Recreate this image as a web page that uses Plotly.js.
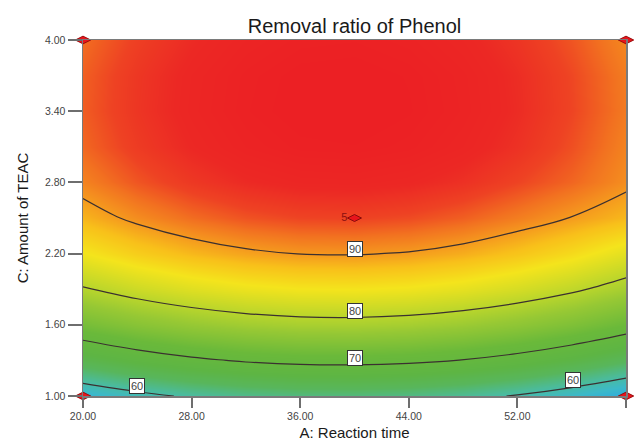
<!DOCTYPE html>
<html>
<head>
<meta charset="utf-8">
<script src="https://cdn.plot.ly/plotly-3.0.1.min.js"></script>
<style>html,body{margin:0;padding:0;background:#fff;}#chart{width:639px;height:443px;}</style>
</head>
<body>
<div id="chart"></div>
<script>
// A: Reaction time (x), C: Amount of TEAC (y)
var reactionTime = [20, 24, 28, 32, 36, 40, 44, 48, 52, 56, 60];
var amountTEAC = [1.0, 1.3, 1.6, 1.9, 2.2, 2.5, 2.8, 3.1, 3.4, 3.7, 4.0];
// Removal ratio of Phenol (%), rows follow amountTEAC, columns follow reactionTime
var removal = [
  [56.9, 58.95, 60.51, 61.59, 62.19, 62.3, 61.93, 61.07, 59.73, 57.91, 55.6],
  [65.7, 67.75, 69.31, 70.39, 70.99, 71.1, 70.73, 69.87, 68.53, 66.71, 64.4],
  [73.3, 75.35, 76.91, 77.99, 78.59, 78.7, 78.33, 77.47, 76.13, 74.31, 72.0],
  [79.65, 81.7, 83.26, 84.34, 84.94, 85.05, 84.68, 83.82, 82.48, 80.66, 78.35],
  [84.78, 86.83, 88.39, 89.47, 90.07, 90.18, 89.81, 88.95, 87.61, 85.79, 83.48],
  [88.6, 90.65, 92.21, 93.29, 93.89, 94.0, 93.63, 92.77, 91.43, 89.9, 88.4],
  [91.15, 93.2, 94.76, 95.84, 96.44, 96.55, 96.18, 95.32, 93.98, 92.5, 90.6],
  [92.45, 94.5, 96.06, 97.14, 97.74, 97.85, 97.48, 96.62, 95.28, 93.46, 91.15],
  [92.9, 94.95, 96.51, 97.59, 98.19, 98.3, 97.93, 97.07, 95.73, 93.91, 91.6],
  [92.8, 94.85, 96.41, 97.49, 98.09, 98.2, 97.83, 96.97, 95.63, 93.81, 91.5],
  [92.2, 94.25, 95.81, 96.89, 97.49, 97.6, 97.23, 96.37, 95.03, 93.21, 90.9]
];
var contourLevels = [60, 70, 80, 90];
// contour labels: value, x, y
var labelValues = [90, 80, 70, 60, 60];
var labelX = [40, 40, 40, 24, 56.1];
var labelY = [2.24, 1.716, 1.32, 1.084, 1.135];
// design points
var cornerX = [20, 20, 60, 60];
var cornerY = [1.0, 4.0, 1.0, 4.0];
var centerX = [40];
var centerY = [2.5];
var centerText = ['5'];
var xTicks = [20, 28, 36, 44, 52, 60];
var yTicks = [1.0, 1.6, 2.2, 2.8, 3.4, 4.0];

var zMin = 55, zMax = 98;
function pos(z){ return (z - zMin) / (zMax - zMin); }
var colorscale = [
  [0, '#2aa9e2'],
  [pos(58), '#3cb9c8'],
  [pos(61), '#4cbb98'],
  [pos(64), '#58b65c'],
  [pos(67), '#5db544'],
  [pos(72), '#6ab93a'],
  [pos(77), '#96c834'],
  [pos(80), '#b8d52c'],
  [pos(85), '#f4e41c'],
  [pos(88), '#f8c01a'],
  [pos(90), '#f59a1e'],
  [pos(92), '#f27220'],
  [pos(94), '#ee4223'],
  [pos(96), '#ec2824'],
  [1, '#ec2024']
];

var font = 'Arial, "Liberation Sans", sans-serif';

var traces = [
  {
    type: 'heatmap', x: reactionTime, y: amountTEAC, z: removal,
    zsmooth: 'best', colorscale: colorscale, zmin: zMin, zmax: zMax,
    showscale: false, hoverinfo: 'skip'
  },
  {
    type: 'contour', x: reactionTime, y: amountTEAC, z: removal,
    contours: {start: contourLevels[0], end: contourLevels[contourLevels.length - 1], size: 10, coloring: 'none', showlabels: false},
    line: {color: '#3b3030', width: 1.2, smoothing: 1.1},
    showscale: false, hoverinfo: 'skip'
  },
  {
    type: 'scatter', mode: 'markers', x: cornerX, y: cornerY, cliponaxis: false,
    marker: {symbol: 'diamond-wide', size: 11, color: '#e8141c', line: {color: '#9a0a0a', width: 1}},
    hoverinfo: 'skip'
  },
  {
    type: 'scatter', mode: 'markers+text', x: centerX, y: centerY, text: centerText,
    textposition: 'middle left', textfont: {family: font, size: 11, color: '#8a1010'},
    marker: {symbol: 'diamond-wide', size: 10, color: '#e8141c', line: {color: '#8a0a0a', width: 1}},
    hoverinfo: 'skip'
  }
];

var annotations = labelValues.map(function(v, i){
  return {
    x: labelX[i], y: labelY[i], xref: 'x', yref: 'y', text: String(v), showarrow: false,
    font: {family: font, size: 11, color: '#444'},
    bgcolor: '#ffffff', bordercolor: '#333', borderwidth: 1, borderpad: 1
  };
});

var layout = {
  width: 639, height: 443,
  margin: {l: 83, r: 13, t: 40, b: 47},
  paper_bgcolor: '#ffffff', plot_bgcolor: '#ffffff',
  showlegend: false,
  font: {family: font, color: '#333'},
  title: {text: 'Removal ratio of Phenol', font: {family: font, size: 20, color: '#1a1a1a'},
          x: 0.5, xref: 'paper', y: 0.942, yref: 'container', yanchor: 'middle'},
  xaxis: {
    range: [20, 60], tickvals: xTicks, ticktext: xTicks.map(function(v){return v.toFixed(2);}),
    ticks: 'outside', ticklen: 10, tickwidth: 2, tickcolor: '#6e6e6e',
    showline: true, linecolor: '#7a7a7a', linewidth: 1.5, mirror: true,
    showgrid: false, zeroline: false,
    tickfont: {family: font, size: 10.5, color: '#444'},
    title: {text: 'A: Reaction time', font: {family: font, size: 15, color: '#1a1a1a'}, standoff: 6}
  },
  yaxis: {
    range: [1, 4], tickvals: yTicks, ticktext: yTicks.map(function(v){return v.toFixed(2);}),
    ticks: 'outside', ticklen: 14, tickwidth: 2, tickcolor: '#6e6e6e',
    showline: true, linecolor: '#7a7a7a', linewidth: 1.5, mirror: true,
    showgrid: false, zeroline: false,
    tickfont: {family: font, size: 10.5, color: '#444'},
    title: {text: 'C: Amount of TEAC', font: {family: font, size: 15, color: '#1a1a1a'}, standoff: 12}
  },
  annotations: annotations
};

Plotly.newPlot('chart', traces, layout, {staticPlot: true, displayModeBar: false});
</script>
</body>
</html>
